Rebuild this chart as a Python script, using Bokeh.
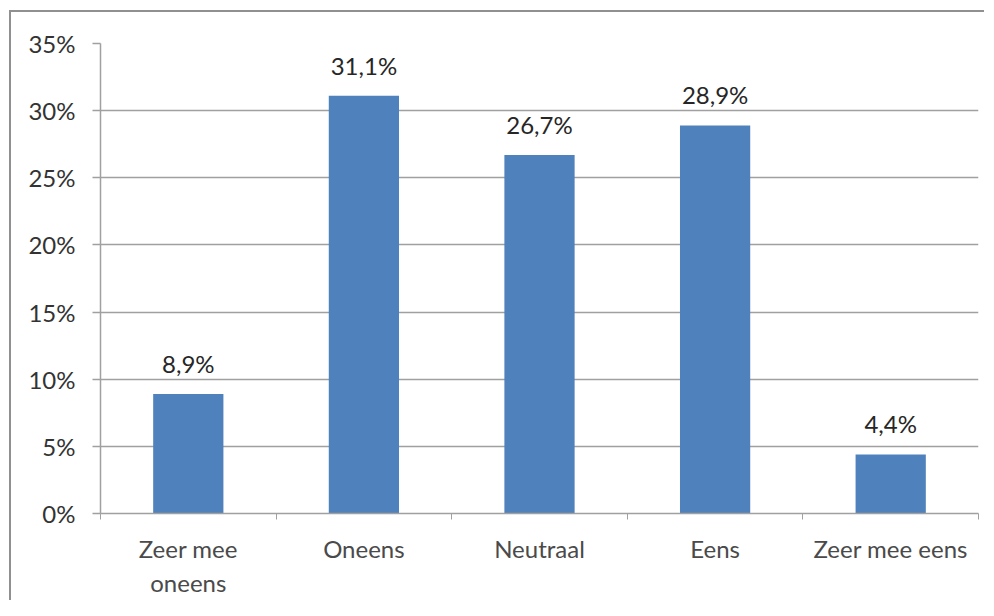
from bokeh.plotting import figure
from bokeh.models import Range1d, FixedTicker, NumeralTickFormatter, ColumnDataSource
from bokeh.core.properties import value
from bokeh.embed import file_html
from bokeh.resources import INLINE

categories = ["Zeer mee\noneens", "Oneens", "Neutraal", "Eens", "Zeer mee eens"]
shares = [0.089, 0.311, 0.267, 0.289, 0.044]
share_labels = ["8,9%", "31,1%", "26,7%", "28,9%", "4,4%"]
y_ticks = [0.0, 0.05, 0.10, 0.15, 0.20, 0.25, 0.30, 0.35]

FONT = "Lato"
x_pos = [i + 0.5 for i in range(len(categories))]

src = ColumnDataSource(dict(x=x_pos, top=shares, label=share_labels))

p = figure(width=984, height=600, output_backend="svg", toolbar_location=None,
           x_range=Range1d(0, len(categories)), y_range=Range1d(0, 0.35),
           min_border_left=100, min_border_right=6, min_border_top=43, min_border_bottom=84)
p.outline_line_color = None
p.border_fill_color = None
p.background_fill_color = None
# outer chart border: top and left edges visible
p.styles = {
    "background": ("linear-gradient(#909090, #909090) 9px 10px / 2px 100% no-repeat, "
                   "linear-gradient(#909090, #909090) 9px 10px / 100% 2px no-repeat"),
}

p.vbar(x="x", top="top", width=0.40, source=src, fill_color="#4F81BD", line_color=None)
p.text(x="x", y="top", text="label", source=src, text_align="center", text_baseline="bottom",
       y_offset=-16, text_font=value(FONT), text_font_size="24px", text_color="#262626")

# y axis
p.yaxis.ticker = FixedTicker(ticks=y_ticks)
p.yaxis.formatter = NumeralTickFormatter(format="0%")
p.yaxis.major_label_text_font = FONT
p.yaxis.major_label_text_font_size = "24px"
p.yaxis.major_label_text_color = "#333333"
p.yaxis.major_label_standoff = 17
p.yaxis.major_tick_out = 8
p.yaxis.major_tick_in = 0
p.yaxis.minor_tick_line_color = None
p.yaxis.axis_line_color = "#A0A0A0"
p.yaxis.axis_line_width = 1.5
p.yaxis.major_tick_line_color = "#A0A0A0"
p.yaxis.major_tick_line_width = 1.5

# x axis
p.xaxis.ticker = FixedTicker(ticks=x_pos, minor_ticks=list(range(len(categories) + 1)))
p.xaxis.major_label_overrides = {x: c for x, c in zip(x_pos, categories)}
p.xaxis.major_label_text_font = FONT
p.xaxis.major_label_text_font_size = "24px"
p.xaxis.major_label_text_color = "#4a4a4a"
p.xaxis.major_label_standoff = 14
p.xaxis.major_tick_line_color = None
p.xaxis.major_tick_out = 6
p.xaxis.major_tick_in = 0
p.xaxis.minor_tick_line_color = "#A0A0A0"
p.xaxis.minor_tick_out = 6
p.xaxis.minor_tick_in = 0
p.xaxis.axis_line_color = "#A0A0A0"
p.xaxis.axis_line_width = 1.5

p.xgrid.grid_line_color = None
p.ygrid.ticker = FixedTicker(ticks=y_ticks)
p.ygrid.grid_line_color = "#A0A0A0"
p.ygrid.grid_line_width = 1.5

open("out.html", "w").write(file_html(p, INLINE))
